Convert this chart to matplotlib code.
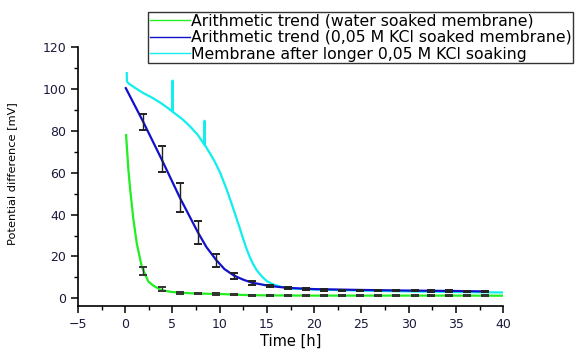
import matplotlib
matplotlib.use("Agg")
import matplotlib.pyplot as plt
from matplotlib.ticker import MultipleLocator
from matplotlib.lines import Line2D

# ---- data ----
green_t = [0.1, 0.35, 0.53, 0.88, 1.23, 1.76, 2.46, 3.0, 3.8, 4.8, 5.8, 7.0, 8.5, 10.5, 12.5, 15, 20, 25, 30, 35, 40]
green_v = [78, 61, 52, 37.5, 26.3, 15.1, 8.0, 6.0, 4.0, 3.1, 2.7, 2.4, 2.2, 2.0, 1.6, 1.4, 1.3, 1.3, 1.3, 1.3, 1.25]

blue_t = [0.07, 1.9, 3.85, 5.8, 7.7, 8.6, 9.6, 10.5, 11.5, 12.5, 13.4, 15.3, 17.2, 20, 25, 30, 35, 38.1]
blue_v = [100.4, 84.4, 66.5, 48, 31.5, 24.5, 18.5, 14.0, 10.9, 8.9, 7.5, 5.9, 5.0, 4.4, 4.0, 3.7, 3.5, 3.3]

cyan_t = [0.17, 0.19, 0.4, 0.9, 1.4, 1.94, 2.8, 3.7, 4.4, 4.98, 5.02, 5.06, 6.0, 6.9, 7.7, 8.36, 8.4, 8.44,
          8.9, 9.35, 9.7, 10.05, 10.4, 10.76, 11.1, 11.46, 11.83, 12.2, 12.55, 12.9, 13.2, 13.5, 13.9, 14.45,
          15.0, 15.7, 16.4, 17.2, 18, 20, 25, 30, 35, 40]
cyan_v = [107.6, 103.6, 102.5, 101, 99.5, 98, 96, 93.5, 91.3, 89.3, 104, 89.0, 85.8, 82, 78, 73.5, 84.8, 73.2,
          69.8, 66.4, 63.3, 60.0, 56.0, 51.8, 47.4, 42.6, 37.6, 32.5, 27.6, 23.0, 19.6, 16.7, 13.6, 10.5,
          8.2, 6.6, 5.6, 5.0, 4.6, 4.2, 3.7, 3.3, 3.0, 2.8]

err_t = [1.9, 3.85, 5.8, 7.7, 9.6, 11.5, 13.4, 15.3, 17.2, 19.1, 21.0, 22.9, 24.9, 26.8, 28.7, 30.7, 32.4, 34.3, 36.2, 38.1]
blue_mean = [84.4, 66.5, 48, 31.5, 18.0, 10.8, 7.5, 5.9, 5.0, 4.4, 4.1, 3.9, 3.8, 3.7, 3.6, 3.6, 3.5, 3.5, 3.4, 3.4]
blue_err = [3.8, 6.2, 7.0, 5.6, 3.0, 1.5, 1.0, 0.7, 0.6, 0.5, 0.4, 0.3, 0.3, 0.3, 0.3, 0.3, 0.3, 0.3, 0.3, 0.3]
green_mean = [13.0, 4.3, 2.6, 2.3, 2.0, 1.9, 1.3, 1.3, 1.3, 1.3, 1.3, 1.3, 1.3, 1.3, 1.3, 1.3, 1.3, 1.3, 1.3, 1.3]
green_err = [1.8, 1.0, 0.6, 0.4, 0.4, 0.3, 0.3, 0.3, 0.3, 0.3, 0.3, 0.3, 0.3, 0.3, 0.3, 0.3, 0.3, 0.3, 0.3, 0.3]

labels = ["Arithmetic trend (water soaked membrane)",
          "Arithmetic trend (0,05 M KCl soaked membrane)",
          "Membrane after longer 0,05 M KCl soaking"]

x_label = "Time [h]"
y_label = "Potential difference [mV]"

# ---- figure ----
plt.rcParams['font.family'] = ['DejaVu Sans']
fig = plt.figure(figsize=(5.77, 3.49), dpi=100)
ax = fig.add_axes([0.135, 0.123, 0.737, 0.742])

colors = ['#22ee22', '#1111cc', '#11eeee']
ax.plot(green_t, green_v, color=colors[0], lw=1.6, zorder=2)
ax.plot(blue_t, blue_v, color=colors[1], lw=1.6, zorder=3)
ax.plot(cyan_t, cyan_v, color=colors[2], lw=1.6, zorder=2)

ax.errorbar(err_t, blue_mean, yerr=blue_err, fmt='none', ecolor='#222222', elinewidth=1.0,
            capsize=3.0, capthick=1.4, zorder=4)
ax.errorbar(err_t, green_mean, yerr=green_err, fmt='none', ecolor='#333333', elinewidth=1.0,
            capsize=3.0, capthick=1.4, zorder=4)

ax.set_xlim(-5, 40)
ax.set_ylim(-3.7, 120)
ax.xaxis.set_major_locator(MultipleLocator(5))
ax.xaxis.set_minor_locator(MultipleLocator(2.5))
ax.yaxis.set_major_locator(MultipleLocator(20))
ax.yaxis.set_minor_locator(MultipleLocator(10))
ax.spines['top'].set_visible(False)
ax.spines['right'].set_visible(False)
ax.spines['left'].set_bounds(-3.7, 120)
for s in ('left', 'bottom'):
    ax.spines[s].set_linewidth(1.2)
ax.tick_params(which='major', direction='out', length=5, width=1.1, labelsize=9, labelcolor='#1a1a3a')
ax.tick_params(which='minor', direction='out', length=3, width=1.0)

ax.set_xlabel(x_label, fontsize=10.5, labelpad=2)
ax.set_ylabel(y_label, fontsize=8.2)
ax.yaxis.set_label_coords(-0.143, 0.513)

handles = [Line2D([], [], color=c, lw=1.0) for c in colors]
leg = fig.legend(handles=handles, labels=labels, loc='upper left',
                 bbox_to_anchor=(148 / 577, 1 - 11.7 / 349), fontsize=11.3,
                 frameon=True, fancybox=False, edgecolor='black', handlelength=2.55,
                 handletextpad=0.1, labelspacing=0.11, borderpad=0.1, borderaxespad=0)
leg.get_frame().set_linewidth(1.0)

fig.savefig("out.png", dpi=100)
